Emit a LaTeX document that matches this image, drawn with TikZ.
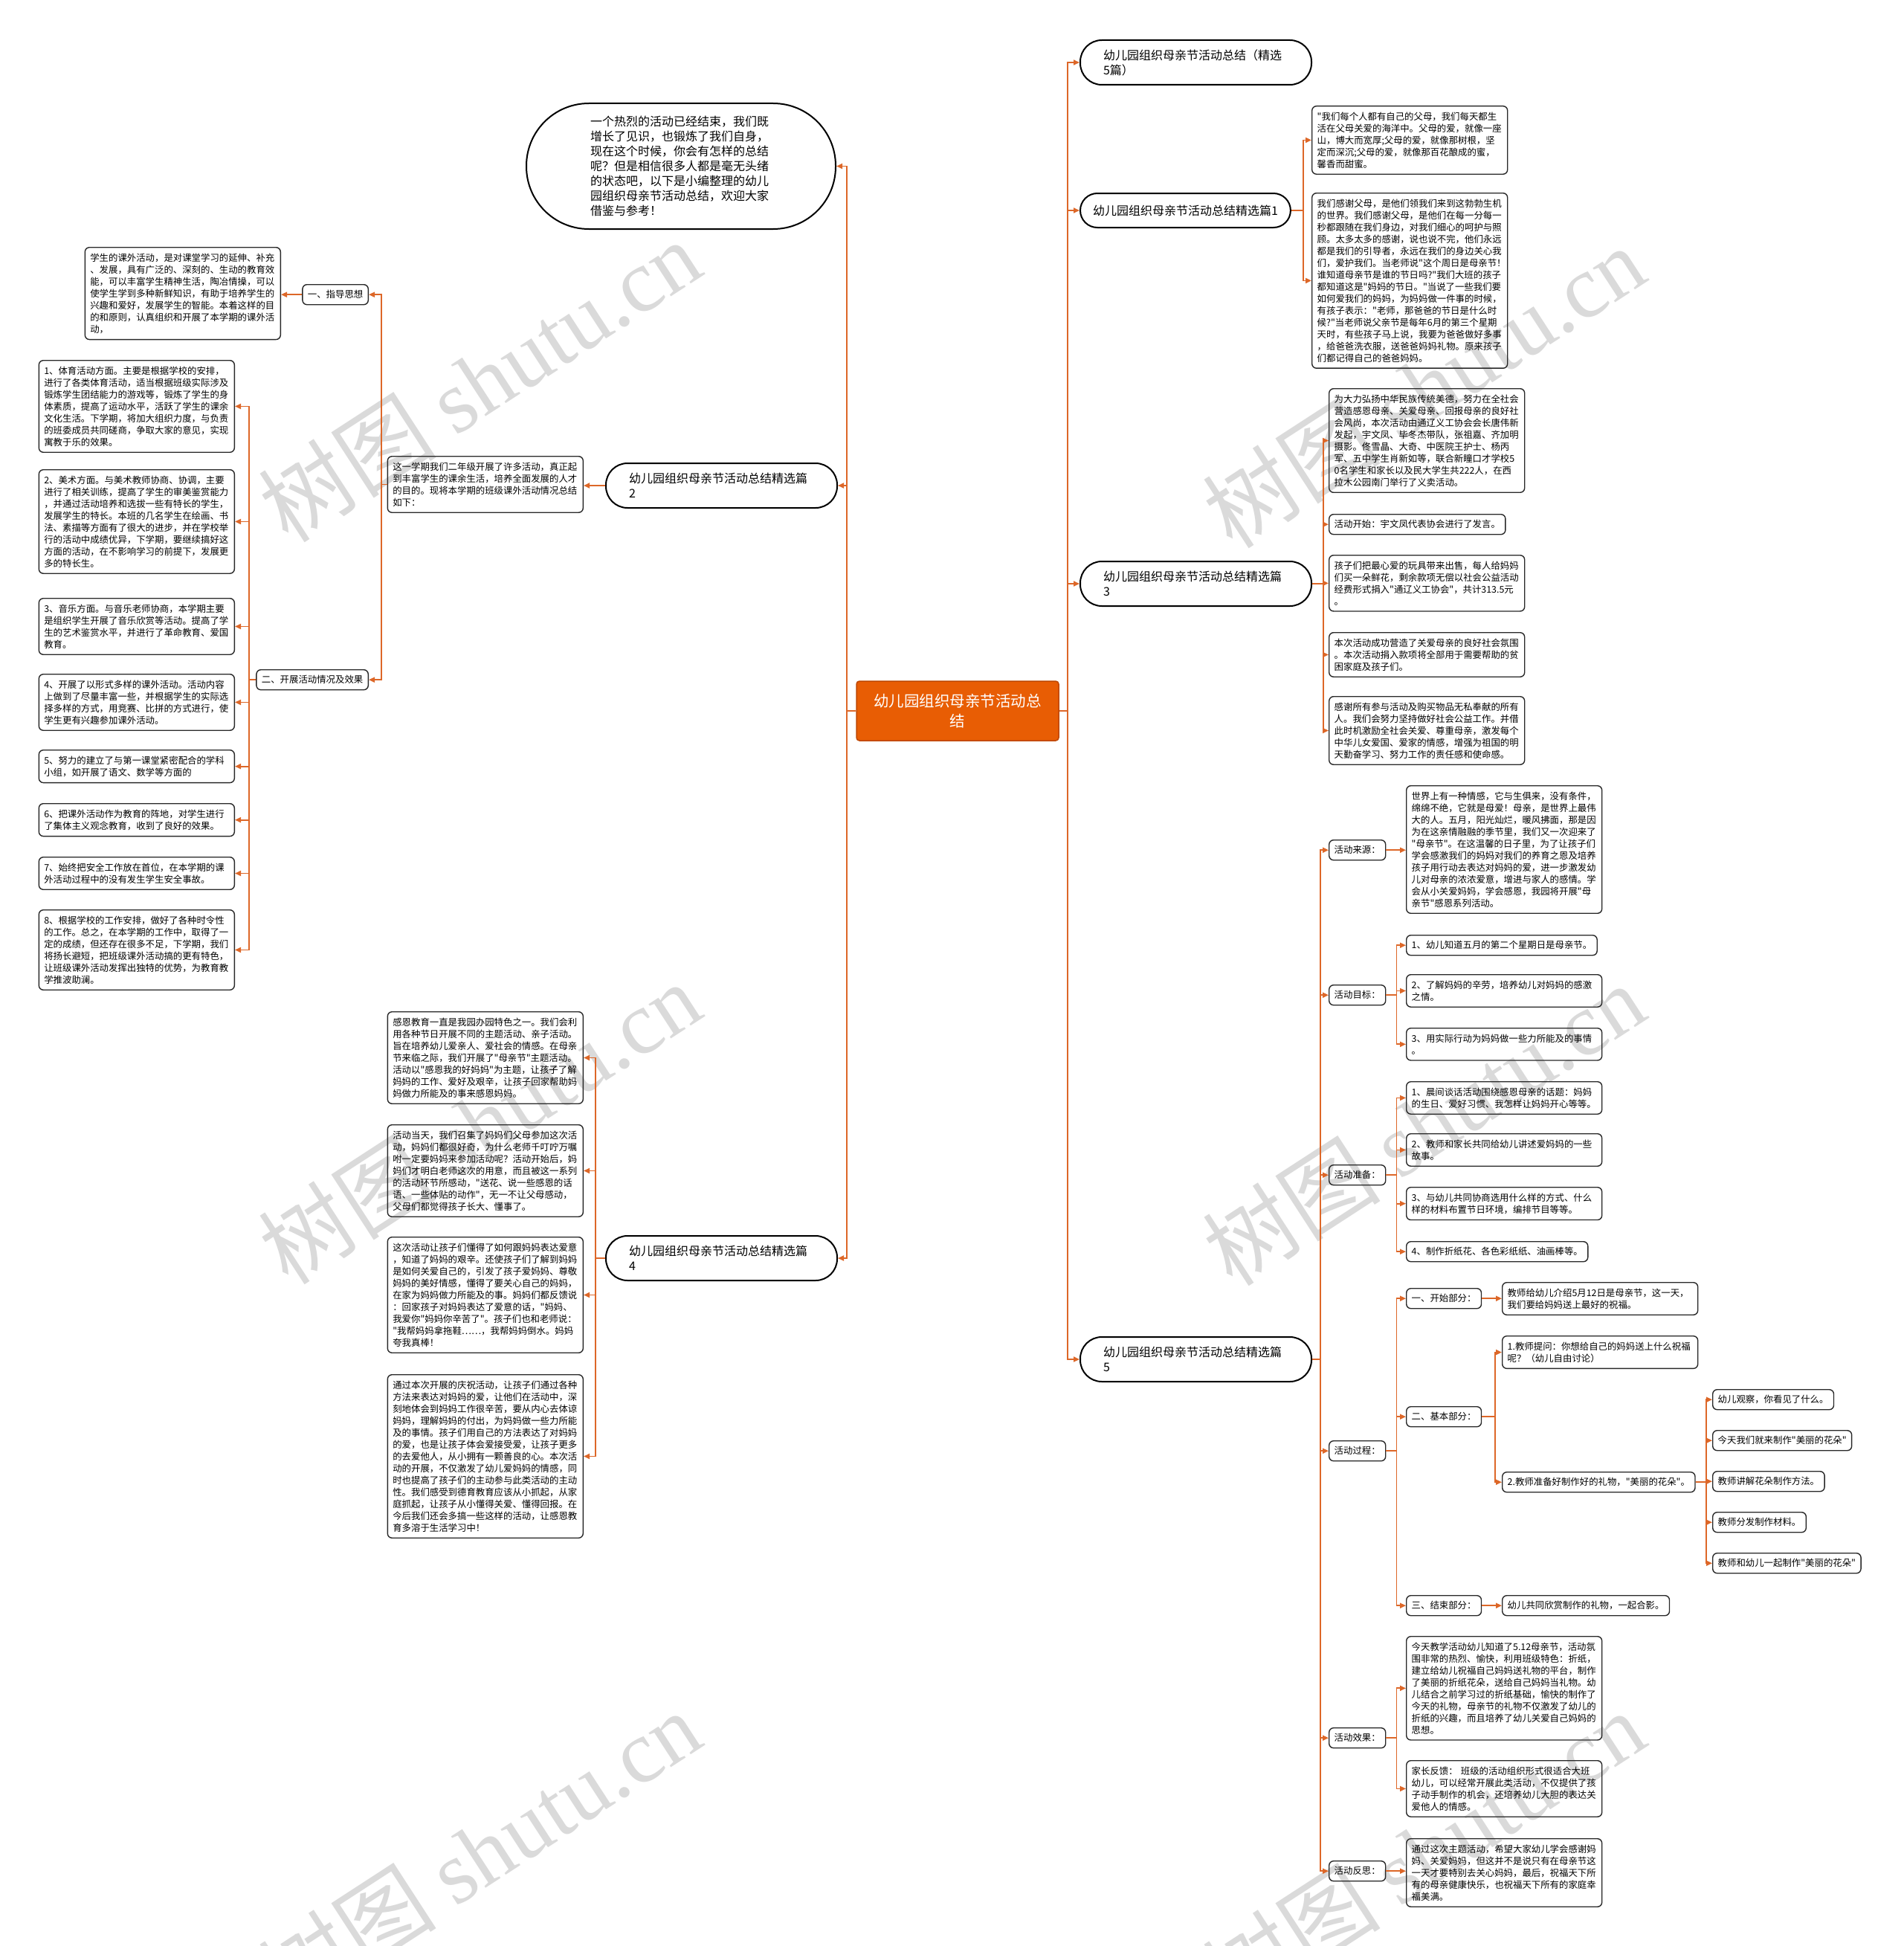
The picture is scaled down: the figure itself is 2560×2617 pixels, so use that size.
\documentclass[tikz,border=0pt]{standalone}
\usepackage{fontspec}
\setmainfont{Noto Sans CJK SC}
\newfontfamily\cjk{Noto Sans CJK SC}
\newfontfamily\wmserif{Liberation Serif}
\usepackage{tikz}
\usetikzlibrary{arrows.meta,calc}
\definecolor{linkc}{RGB}{221,103,40}
\definecolor{rootc}{RGB}{232,93,4}
\definecolor{rootd}{RGB}{190,70,0}
\definecolor{boxc}{RGB}{40,40,40}
\definecolor{wmc}{RGB}{218,218,218}

\begin{document}
\begin{tikzpicture}[
		x=1pt,y=-1pt,
		conn/.style={draw=linkc,line width=1.8pt,-{Triangle[length=8pt,width=7pt]}},
		txt/.style={draw=boxc,line width=1.4pt,rounded corners=6pt,align=left,text width=249pt,inner xsep=7pt,inner ysep=8pt,font=\cjk\fontsize{12.4}{16}\selectfont},
		lbl/.style={draw=boxc,line width=1.4pt,rounded corners=6pt,inner xsep=7pt,inner ysep=6pt,minimum height=27pt,font=\cjk\fontsize{12.4}{16}\selectfont},
		pill/.style={draw=black,line width=2pt,rounded corners=23pt,inner xsep=17pt,minimum height=46pt,font=\cjk\fontsize{16}{20}\selectfont},
		pilltwo/.style={pill,rounded corners=29pt,align=left,text width=249pt,inner xsep=31pt,minimum height=60pt},
		rootbox/.style={fill=rootc,draw=rootd,line width=1.5pt,rounded corners=4pt,text=white,align=center,text width=236pt,inner xsep=18pt,inner ysep=4pt,minimum height=80pt,font=\cjk\fontsize{20.5}{27}\selectfont},
		wm/.style={text=wmc,rotate=33,font=\cjk\fontsize{120}{120}\selectfont}
		]
		\useasboundingbox (0,0) rectangle (2560,2617);

		% watermarks
		\node[wm] (wm1) at (645,512) {树图 {\wmserif shutu.cn}};
		\node[wm] (wm2) at (1915,520) {树图 {\wmserif shutu.cn}};
		\node[wm] (wm3) at (645,1510) {树图 {\wmserif shutu.cn}};
		\node[wm] (wm4) at (1915,1512) {树图 {\wmserif shutu.cn}};
		\node[wm] (wm5) at (645,2490) {树图 {\wmserif shutu.cn}};
		\node[wm] (wm6) at (1915,2490) {树图 {\wmserif shutu.cn}};

		% centre
		\node[rootbox] (root) at (1288,956) {幼儿园组织母亲节活动总\\结};

		% right side
		\node[pilltwo,anchor=north west] (zongjie) at (1452,53) {幼儿园组织母亲节活动总结（精选\\5篇）};
		\node[pill,anchor=north west] (pian1) at (1452,259) {幼儿园组织母亲节活动总结精选篇1};
		\node[pilltwo,anchor=north west] (pian3) at (1452,754) {幼儿园组织母亲节活动总结精选篇\\3};
		\node[pilltwo,anchor=north west] (pian5) at (1452,1797) {幼儿园组织母亲节活动总结精选篇\\5};

		% left side
		\node[pill,anchor=north west,rounded corners=84pt,align=left,text width=244pt,inner xsep=86pt,inner ysep=10pt,minimum height=169pt] (yinyan) at (707,138) {一个热烈的活动已经结束，我们既\\增长了见识，也锻炼了我们自身，\\现在这个时候，你会有怎样的总结\\呢？但是相信很多人都是毫无头绪\\的状态吧，以下是小编整理的幼儿\\园组织母亲节活动总结，欢迎大家\\借鉴与参考！};
		\node[pilltwo,anchor=north west] (pian2) at (814,622) {幼儿园组织母亲节活动总结精选篇\\2};
		\node[pilltwo,anchor=north west] (pian4) at (814,1661) {幼儿园组织母亲节活动总结精选篇\\4};

		% pian 2
		\node[txt,anchor=north east] (p2text) at (785,613) {这一学期我们二年级开展了许多活动，真正起\\到丰富学生的课余生活，培养全面发展的人才\\的目的。现将本学期的班级课外活动情况总结\\如下：};
		\node[lbl,anchor=north east] (zhidao) at (496,382) {一、指导思想};
		\node[lbl,anchor=north east] (kaizhan) at (496,900) {二、开展活动情况及效果};
		\node[txt,anchor=north east] (zhidaotext) at (378,332) {学生的课外活动，是对课堂学习的延伸、补充\\、发展，具有广泛的、深刻的、生动的教育效\\能，可以丰富学生精神生活，陶冶情操，可以\\使学生学到多种新鲜知识，有助于培养学生的\\兴趣和爱好，发展学生的智能。本着这样的目\\的和原则，认真组织和开展了本学期的课外活\\动，};
		\node[txt,anchor=north east] (kz1) at (316,484) {1、体育活动方面。主要是根据学校的安排，\\进行了各类体育活动，适当根据班级实际涉及\\锻炼学生团结能力的游戏等，锻炼了学生的身\\体素质，提高了运动水平，活跃了学生的课余\\文化生活。下学期，将加大组织力度，与负责\\的班委成员共同磋商，争取大家的意见，实现\\寓教于乐的效果。};
		\node[txt,anchor=north east] (kz2) at (316,631) {2、美术方面。与美术教师协商、协调，主要\\进行了相关训练，提高了学生的审美鉴赏能力\\，并通过活动培养和选拔一些有特长的学生，\\发展学生的特长。本班的几名学生在绘画、书\\法、素描等方面有了很大的进步，并在学校举\\行的活动中成绩优异，下学期，要继续搞好这\\方面的活动，在不影响学习的前提下，发展更\\多的特长生。};
		\node[txt,anchor=north east] (kz3) at (316,804) {3、音乐方面。与音乐老师协商，本学期主要\\是组织学生开展了音乐欣赏等活动。提高了学\\生的艺术鉴赏水平，并进行了革命教育、爱国\\教育。};
		\node[txt,anchor=north east] (kz4) at (316,906) {4、开展了以形式多样的课外活动。活动内容\\上做到了尽量丰富一些，并根据学生的实际选\\择多样的方式，用竞赛、比拼的方式进行，使\\学生更有兴趣参加课外活动。};
		\node[txt,anchor=north east] (kz5) at (316,1008) {5、努力的建立了与第一课堂紧密配合的学科\\小组，如开展了语文、数学等方面的};
		\node[txt,anchor=north east] (kz6) at (316,1080) {6、把课外活动作为教育的阵地，对学生进行\\了集体主义观念教育，收到了良好的效果。};
		\node[txt,anchor=north east] (kz7) at (316,1152) {7、始终把安全工作放在首位，在本学期的课\\外活动过程中的没有发生学生安全事故。};
		\node[txt,anchor=north east] (kz8) at (316,1223) {8、根据学校的工作安排，做好了各种时令性\\的工作。总之，在本学期的工作中，取得了一\\定的成绩，但还存在很多不足，下学期，我们\\将扬长避短，把班级课外活动搞的更有特色，\\让班级课外活动发挥出独特的优势，为教育教\\学推波助澜。};

		% pian 4
		\node[txt,anchor=north east] (p4a) at (785,1360) {感恩教育一直是我园办园特色之一。我们会利\\用各种节日开展不同的主题活动、亲子活动。\\旨在培养幼儿爱亲人、爱社会的情感。在母亲\\节来临之际，我们开展了"母亲节"主题活动。\\活动以"感恩我的好妈妈"为主题，让孩子了解\\妈妈的工作、爱好及艰辛，让孩子回家帮助妈\\妈做力所能及的事来感恩妈妈。};
		\node[txt,anchor=north east] (p4b) at (785,1512) {活动当天，我们召集了妈妈们父母参加这次活\\动，妈妈们都很好奇，为什么老师千叮咛万嘱\\咐一定要妈妈来参加活动呢？活动开始后，妈\\妈们才明白老师这次的用意，而且被这一系列\\的活动环节所感动，"送花、说一些感恩的话\\语、一些体贴的动作"，无一不让父母感动，\\父母们都觉得孩子长大、懂事了。};
		\node[txt,anchor=north east] (p4c) at (785,1663) {这次活动让孩子们懂得了如何跟妈妈表达爱意\\，知道了妈妈的艰辛。还使孩子们了解到妈妈\\是如何关爱自己的，引发了孩子爱妈妈、尊敬\\妈妈的美好情感，懂得了要关心自己的妈妈，\\在家为妈妈做力所能及的事。妈妈们都反馈说\\：回家孩子对妈妈表达了爱意的话，"妈妈、\\我爱你"妈妈你辛苦了"。孩子们也和老师说：\\"我帮妈妈拿拖鞋……，我帮妈妈倒水。妈妈\\夸我真棒！};
		\node[txt,anchor=north east] (p4d) at (785,1848) {通过本次开展的庆祝活动，让孩子们通过各种\\方法来表达对妈妈的爱，让他们在活动中，深\\刻地体会到妈妈工作很辛苦，要从内心去体谅\\妈妈，理解妈妈的付出，为妈妈做一些力所能\\及的事情。孩子们用自己的方法表达了对妈妈\\的爱，也是让孩子体会爱接受爱，让孩子更多\\的去爱他人，从小拥有一颗善良的心。本次活\\动的开展，不仅激发了幼儿爱妈妈的情感，同\\时也提高了孩子们的主动参与此类活动的主动\\性。我们感受到德育教育应该从小抓起，从家\\庭抓起，让孩子从小懂得关爱、懂得回报。在\\今后我们还会多搞一些这样的活动，让感恩教\\育多溶于生活学习中！};

		% pian 1
		\node[txt,anchor=north west] (p1a) at (1764,142) {"我们每个人都有自己的父母，我们每天都生\\活在父母关爱的海洋中。父母的爱，就像一座\\山，博大而宽厚;父母的爱，就像那树根，坚\\定而深沉;父母的爱，就像那百花酿成的蜜，\\馨香而甜蜜。};
		\node[txt,anchor=north west] (p1b) at (1764,259) {我们感谢父母，是他们领我们来到这勃勃生机\\的世界。我们感谢父母，是他们在每一分每一\\秒都跟随在我们身边，对我们细心的呵护与照\\顾。太多太多的感谢，说也说不完，他们永远\\都是我们的引导者，永远在我们的身边关心我\\们，爱护我们。当老师说"这个周日是母亲节！\\谁知道母亲节是谁的节日吗?"我们大班的孩子\\都知道这是"妈妈的节日。"当说了一些我们要\\如何爱我们的妈妈，为妈妈做一件事的时候，\\有孩子表示："老师，那爸爸的节日是什么时\\候?"当老师说父亲节是每年6月的第三个星期\\天时，有些孩子马上说，我要为爸爸做好多事\\，给爸爸洗衣服，送爸爸妈妈礼物。原来孩子\\们都记得自己的爸爸妈妈。};

		% pian 3
		\node[txt,anchor=north west] (p3a) at (1787,522) {为大力弘扬中华民族传统美德，努力在全社会\\营造感恩母亲、关爱母亲、回报母亲的良好社\\会风尚，本次活动由通辽义工协会会长唐伟新\\发起，宇文凤、毕冬杰带队，张祖嘉、齐加明\\摄影。佟雪晶、大奇、中医院王护士、杨丙\\军、五中学生肖新如等，联合新瞳口才学校5\\0名学生和家长以及民大学生共222人，在西\\拉木公园南门举行了义卖活动。};
		\node[lbl,anchor=north west] (p3b) at (1787,691) {活动开始：宇文凤代表协会进行了发言。};
		\node[txt,anchor=north west] (p3c) at (1787,746) {孩子们把最心爱的玩具带来出售，每人给妈妈\\们买一朵鲜花，剩余款项无偿以社会公益活动\\经费形式捐入"通辽义工协会"，共计313.5元\\。};
		\node[txt,anchor=north west] (p3d) at (1787,850) {本次活动成功营造了关爱母亲的良好社会氛围\\。本次活动捐入款项将全部用于需要帮助的贫\\困家庭及孩子们。};
		\node[txt,anchor=north west] (p3e) at (1787,936) {感谢所有参与活动及购买物品无私奉献的所有\\人。我们会努力坚持做好社会公益工作。并借\\此时机激励全社会关爱、尊重母亲，激发每个\\中华儿女爱国、爱家的情感，增强为祖国的明\\天勤奋学习、努力工作的责任感和使命感。};

		% pian 5
		\node[lbl,anchor=north west] (laiyuan) at (1787,1129) {活动来源：};
		\node[lbl,anchor=north west] (mubiao) at (1787,1324) {活动目标：};
		\node[lbl,anchor=north west] (zhunbei) at (1787,1566) {活动准备：};
		\node[lbl,anchor=north west] (guocheng) at (1787,1937) {活动过程：};
		\node[lbl,anchor=north west] (xiaoguo) at (1787,2323) {活动效果：};
		\node[lbl,anchor=north west] (fansi) at (1787,2502) {活动反思：};
		\node[txt,anchor=north west] (laiyuantext) at (1891,1056) {世界上有一种情感，它与生俱来，没有条件，\\绵绵不绝，它就是母爱！母亲，是世界上最伟\\大的人。五月，阳光灿烂，暖风拂面，那是因\\为在这亲情融融的季节里，我们又一次迎来了\\"母亲节"。在这温馨的日子里，为了让孩子们\\学会感激我们的妈妈对我们的养育之恩及培养\\孩子用行动去表达对妈妈的爱，进一步激发幼\\儿对母亲的浓浓爱意，增进与家人的感情。学\\会从小关爱妈妈，学会感恩，我园将开展"母\\亲节"感恩系列活动。};
		\node[lbl,anchor=north west] (mb1) at (1891,1257) {1、幼儿知道五月的第二个星期日是母亲节。};
		\node[txt,anchor=north west] (mb2) at (1891,1310) {2、了解妈妈的辛劳，培养幼儿对妈妈的感激\\之情。};
		\node[txt,anchor=north west] (mb3) at (1891,1382) {3、用实际行动为妈妈做一些力所能及的事情\\。};
		\node[txt,anchor=north west] (zb1) at (1891,1454) {1、晨间谈话活动围绕感恩母亲的话题：妈妈\\的生日、爱好习惯、我怎样让妈妈开心等等。};
		\node[txt,anchor=north west] (zb2) at (1891,1524) {2、教师和家长共同给幼儿讲述爱妈妈的一些\\故事。};
		\node[txt,anchor=north west] (zb3) at (1891,1596) {3、与幼儿共同协商选用什么样的方式、什么\\样的材料布置节日环境，编排节目等等。};
		\node[lbl,anchor=north west] (zb4) at (1891,1669) {4、制作折纸花、各色彩纸纸、油画棒等。};
		\node[lbl,anchor=north west] (gc1) at (1891,1732) {一、开始部分：};
		\node[lbl,anchor=north west] (gc2) at (1891,1891) {二、基本部分：};
		\node[lbl,anchor=north west] (gc3) at (1891,2145) {三、结束部分：};
		\node[txt,anchor=north west] (gc1text) at (2020,1724) {教师给幼儿介绍5月12日是母亲节，这一天，\\我们要给妈妈送上最好的祝福。};
		\node[txt,anchor=north west] (gc2a) at (2020,1796) {1.教师提问：你想给自己的妈妈送上什么祝福\\呢？（幼儿自由讨论）};
		\node[lbl,anchor=north west] (gc2b) at (2020,1979) {2.教师准备好制作好的礼物，"美丽的花朵"。};
		\node[lbl,anchor=north west] (hua1) at (2303,1868) {幼儿观察，你看见了什么。};
		\node[lbl,anchor=north west] (hua2) at (2303,1923) {今天我们就来制作"美丽的花朵"};
		\node[lbl,anchor=north west] (hua3) at (2303,1978) {教师讲解花朵制作方法。};
		\node[lbl,anchor=north west] (hua4) at (2303,2033) {教师分发制作材料。};
		\node[lbl,anchor=north west] (hua5) at (2303,2088) {教师和幼儿一起制作"美丽的花朵"};
		\node[lbl,anchor=north west] (gc3text) at (2020,2145) {幼儿共同欣赏制作的礼物，一起合影。};
		\node[txt,anchor=north west] (xg1) at (1891,2200) {今天教学活动幼儿知道了5.12母亲节，活动氛\\围非常的热烈、愉快，利用班级特色：折纸，\\建立给幼儿祝福自己妈妈送礼物的平台，制作\\了美丽的折纸花朵，送给自己妈妈当礼物。幼\\儿结合之前学习过的折纸基础，愉快的制作了\\今天的礼物，母亲节的礼物不仅激发了幼儿的\\折纸的兴趣，而且培养了幼儿关爱自己妈妈的\\思想。};
		\node[txt,anchor=north west] (xg2) at (1891,2367) {家长反馈： 班级的活动组织形式很适合大班\\幼儿，可以经常开展此类活动，不仅提供了孩\\子动手制作的机会，还培养幼儿大胆的表达关\\爱他人的情感。};
		\node[txt,anchor=north west] (fansitext) at (1891,2472) {通过这次主题活动，希望大家幼儿学会感谢妈\\妈、关爱妈妈，但这并不是说只有在母亲节这\\一天才要特别去关心妈妈，最后，祝福天下所\\有的母亲健康快乐，也祝福天下所有的家庭幸\\福美满。};

		% connectors, right
		\draw[conn] (root.east) -- ++(11,0) |- (zongjie.west);
		\draw[conn] (root.east) -- ++(11,0) |- (pian1.west);
		\draw[conn] (root.east) -- ++(11,0) |- (pian3.west);
		\draw[conn] (root.east) -- ++(11,0) |- (pian5.west);
		\draw[conn] (pian1.east) -- ++(16,0) |- (p1a.west);
		\draw[conn] (pian1.east) -- ++(16,0) |- (p1b.west);
		\draw[conn] (pian3.east) -- ++(15,0) |- (p3a.west);
		\draw[conn] (pian3.east) -- ++(15,0) |- (p3b.west);
		\draw[conn] (pian3.east) -- ++(15,0) |- (p3c.west);
		\draw[conn] (pian3.east) -- ++(15,0) |- (p3d.west);
		\draw[conn] (pian3.east) -- ++(15,0) |- (p3e.west);
		\draw[conn] (pian5.east) -- ++(11,0) |- (laiyuan.west);
		\draw[conn] (pian5.east) -- ++(11,0) |- (mubiao.west);
		\draw[conn] (pian5.east) -- ++(11,0) |- (zhunbei.west);
		\draw[conn] (pian5.east) -- ++(11,0) |- (guocheng.west);
		\draw[conn] (pian5.east) -- ++(11,0) |- (xiaoguo.west);
		\draw[conn] (pian5.east) -- ++(11,0) |- (fansi.west);
		\draw[conn] (laiyuan.east) -- (laiyuan.east -| laiyuantext.west);
		\draw[conn] (mubiao.east) -- ++(14,0) |- (mb1.west);
		\draw[conn] (mubiao.east) -- ++(14,0) |- (mb2.west);
		\draw[conn] (mubiao.east) -- ++(14,0) |- (mb3.west);
		\draw[conn] (zhunbei.east) -- ++(14,0) |- (zb1.west);
		\draw[conn] (zhunbei.east) -- ++(14,0) |- (zb2.west);
		\draw[conn] (zhunbei.east) -- ++(14,0) |- (zb3.west);
		\draw[conn] (zhunbei.east) -- ++(14,0) |- (zb4.west);
		\draw[conn] (guocheng.east) -- ++(14,0) |- (gc1.west);
		\draw[conn] (guocheng.east) -- ++(14,0) |- (gc2.west);
		\draw[conn] (guocheng.east) -- ++(14,0) |- (gc3.west);
		\draw[conn] (gc1.east) -- (gc1.east -| gc1text.west);
		\draw[conn] (gc2.east) -- ++(18,0) |- (gc2a.west);
		\draw[conn] (gc2.east) -- ++(18,0) |- (gc2b.west);
		\draw[conn] (gc2b.east) -- ++(14,0) |- (hua1.west);
		\draw[conn] (gc2b.east) -- ++(14,0) |- (hua2.west);
		\draw[conn] (gc2b.east) -- ++(14,0) |- (hua3.west);
		\draw[conn] (gc2b.east) -- ++(14,0) |- (hua4.west);
		\draw[conn] (gc2b.east) -- ++(14,0) |- (hua5.west);
		\draw[conn] (gc3.east) -- (gc3.east -| gc3text.west);
		\draw[conn] (xiaoguo.east) -- ++(14,0) |- (xg1.west);
		\draw[conn] (xiaoguo.east) -- ++(14,0) |- (xg2.west);
		\draw[conn] (fansi.east) -- (fansi.east -| fansitext.west);

		% connectors, left
		\draw[conn] (root.west) -- ++(-12,0) |- (yinyan.east);
		\draw[conn] (root.west) -- ++(-12,0) |- (pian2.east);
		\draw[conn] (root.west) -- ++(-12,0) |- (pian4.east);
		\draw[conn] (pian2.west) -- (pian2.west -| p2text.east);
		\draw[conn] (p2text.west) -- ++(-8,0) |- (zhidao.east);
		\draw[conn] (p2text.west) -- ++(-8,0) |- (kaizhan.east);
		\draw[conn] (zhidao.west) -- (zhidao.west -| zhidaotext.east);
		\draw[conn] (kaizhan.west) -- ++(-9,0) |- (kz1.east);
		\draw[conn] (kaizhan.west) -- ++(-9,0) |- (kz2.east);
		\draw[conn] (kaizhan.west) -- ++(-9,0) |- (kz3.east);
		\draw[conn] (kaizhan.west) -- ++(-9,0) |- (kz4.east);
		\draw[conn] (kaizhan.west) -- ++(-9,0) |- (kz5.east);
		\draw[conn] (kaizhan.west) -- ++(-9,0) |- (kz6.east);
		\draw[conn] (kaizhan.west) -- ++(-9,0) |- (kz7.east);
		\draw[conn] (kaizhan.west) -- ++(-9,0) |- (kz8.east);
		\draw[conn] (pian4.west) -- ++(-13,0) |- (p4a.east);
		\draw[conn] (pian4.west) -- ++(-13,0) |- (p4b.east);
		\draw[conn] (pian4.west) -- ++(-13,0) |- (p4c.east);
		\draw[conn] (pian4.west) -- ++(-13,0) |- (p4d.east);
	\end{tikzpicture}
\end{document}
